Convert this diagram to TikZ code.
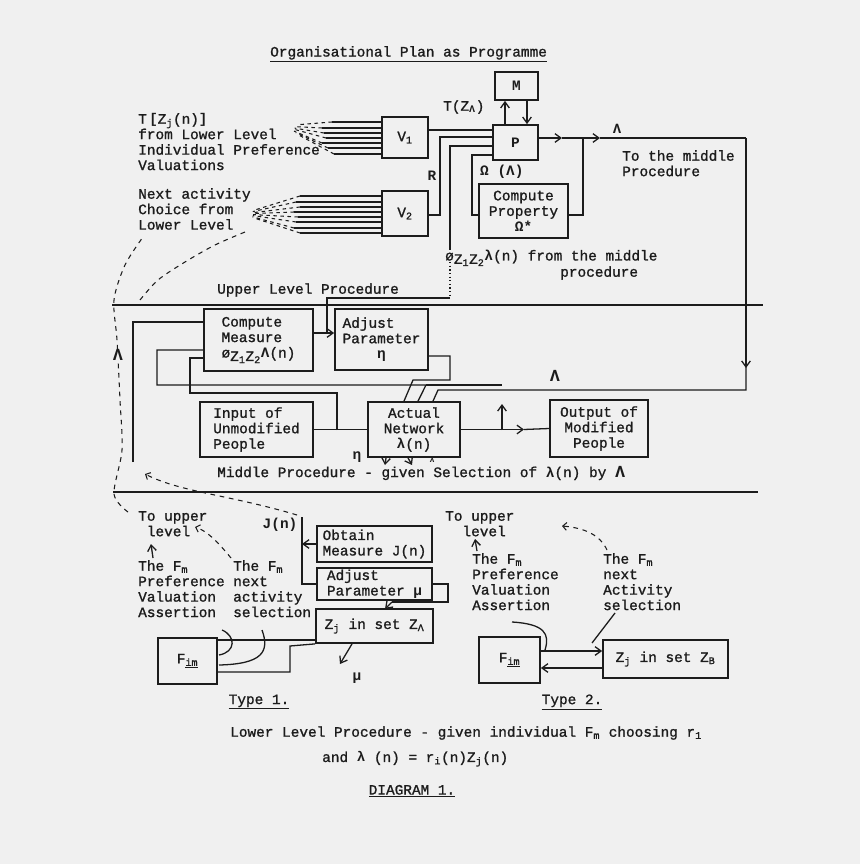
\documentclass[tikz,border=0pt]{standalone}
\usepackage{fontspec}
\setmainfont{Liberation Mono}[UprightFeatures={FakeBold=1.2}]
\usetikzlibrary{arrows.meta,calc}
\definecolor{paper}{HTML}{F0F0F0}
\definecolor{ink}{HTML}{1C1C1C}
\newcommand{\phizz}{ø\raisebox{-0.45ex}{Z\textsubscript{1}Z\textsubscript{2}}}
\tikzset{
  pbox/.style 2 args = {draw=ink, line width=1.5pt, rectangle, minimum width=#1*0.3mm,
                        minimum height=#2*0.3mm, inner sep=0.5pt, align=center},
  wire/.style     = {draw=ink, line width=1.1pt},
  sig/.style      = {wire, -{Straight Barb[length=1.8mm,width=2.6mm]}},
  dashline/.style = {draw=ink, line width=0.9pt, dash pattern=on 4pt off 4pt},
  fan/.style      = {draw=ink, line width=0.9pt, dash pattern=on 3pt off 3pt},
  lbl/.style      = {text=ink, inner sep=0pt, align=left},
}
\begin{document}
\begin{tikzpicture}[x=0.3mm,y=-0.3mm,font=\fontsize{12.3}{13.2}\selectfont,color=ink]
\fill[paper] (0,0) rectangle (860,864);
\useasboundingbox (0,0) rectangle (860,864);
\node[lbl,anchor=west] (title) at (270,54) {\underline{Organisational Plan as Programme}};
% upper level boxes
\node[pbox={43}{28}] (m) at (516.5,86) {\textbf{M}};
\node[pbox={45}{35}] (p) at (515.5,142.5) {\textbf{P}};
\node[pbox={46}{41}] (v1) at (405,137.5) {V\textsubscript{1}};
\node[pbox={46}{45}] (v2) at (405,213.5) {V\textsubscript{2}};
\node[pbox={89}{54}] (cprop) at (523.5,211) {Compute\\Property\\\textbf{Ω*}};
% preference lines into V1 and V2
\foreach \y/\xs in {122/332,128/322,133/324,138/326,143/322,148/328,154/334}{
  \draw[wire] (\xs,\y) -- (v1.west |- 0,\y);
  \draw[fan] (\xs,\y) -- ($(\xs,\y)!0.7!(282,126)$);}
\foreach \y/\xs in {196/300,202/296,207/300,212/294,217/298,222/296,228/294,233/300}{
  \draw[wire] (\xs,\y) -- (v2.west |- 0,\y);
  \draw[fan] (\xs,\y) -- ($(\xs,\y)!0.8!(242,214)$);}
\node[lbl,anchor=north west] (tzj) at (138,113) {T\,{\large\textbf{[}}Z\textsubscript{j}(n){\large\textbf{]}}\\from Lower Level\\Individual Preference\\Valuations};
\node[lbl,anchor=north west] (nxt) at (138,188) {Next activity\\Choice from\\Lower Level};
% into P
\draw[wire] (v1.east |- 0,130) -- (p.west |- 0,130);
\draw[wire] (v2.east |- 0,215) -- (440,215) -- (440,137) -- (p.west |- 0,137);
\draw[wire] (p.west |- 0,146) -- (450,146) -- (450,250);
\draw[wire,dotted] (450,262) -- (450,298);
\draw[wire] (450,298) -- (327,298) -- (327,333);
\draw[sig] (p.north -| 505,0) -- (m.south -| 505,0);
\draw[sig] (m.south -| 527,0) -- (p.north -| 527,0);
% out of P
\coordinate (lamR) at (746,138);
\draw[sig] (p.east |- 0,138) -- (562,138);
\draw[sig] (562,138) -- (600,138);
\draw[wire] (600,138) -- (lamR);
\draw[sig] (lamR) -- (746,368);
\draw[wire] (583,138) -- (583,215) -- (cprop.east |- 0,215);
\draw[wire] (cprop.west |- 0,215) -- (472,215) -- (472,155) -- (p.west |- 0,155);
\node[lbl,anchor=west] (tza) at (443,107) {T(Z\textsubscript{\textbf{Λ}})};
\node[lbl] (r) at (432,176) {\textbf{R}};
\node[lbl,anchor=west] (omg) at (480,172) {\textbf{Ω (Λ)}};
\node[lbl] (lam1) at (617,129) {\large\textbf{Λ}};
\node[lbl,anchor=north west] (tomid) at (622,150) {To the middle\\Procedure};
\node[lbl,anchor=west] (phil) at (445,258) {\phizz\textbf{λ}(n) from the middle};
\node[lbl,anchor=west] (proc) at (560,273) {procedure};
\node[lbl,anchor=west] (ulp) at (217,290) {Upper Level Procedure};
% dividers
\draw[wire] (112,305) -- (763,305);
\draw[wire] (113,492) -- (758,492);
% middle level boxes
\node[pbox={109}{62},align=left] (cmeas) at (258.5,340) {Compute\\Measure\\\phizz\textbf{Λ}(n)};
\node[pbox={93}{61},align=left] (adjeta) at (381.5,339.5) {Adjust\\Parameter\\\hspace*{2.4em}\textbf{η}};
\node[pbox={113}{55},align=left] (input) at (256.5,429.5) {Input of\\Unmodified\\People};
\node[pbox={92}{55}] (net) at (414,429.5) {Actual\\Network\\\textbf{λ}(n)};
\node[pbox={98}{57}] (output) at (599,428.5) {Output of\\Modified\\People};
% middle level wiring
\draw[wire] (746,366) -- (746,390) -- (438,390) -- (net.north -| 433,0);
\draw[sig] (cmeas.east |- 0,333) -- (adjeta.west |- 0,333);
\draw[wire] (input.east) -- (net.west);
\draw[wire] (337,430) -- (337,393) -- (190,393) -- (190,358) -- (cmeas.west |- 0,358);
\draw[wire] (133,462) -- (133,322) -- (cmeas.west |- 0,322);
\draw[wire] (cmeas.west |- 0,350) -- (157,350) -- (157,385) -- (426,385) -- (net.north -| 418,0);
\draw[wire] (426,385) -- (502,385);
\draw[sig] (502,430) -- (502,404);
\draw[wire] (adjeta.east |- 0,356) -- (450,356) -- (450,380) -- (413,380) -- (net.north -| 404,0);
\draw[sig] (net.east) -- (524,429.5);
\draw[wire] (524,429.5) -- (output.west);
\node[lbl] (lam2) at (555,376) {\Large\textbf{Λ}};
\node[lbl,anchor=west] (mlp) at (217,473) {Middle Procedure - given Selection of \textbf{λ}(n) by {\Large\textbf{Λ}}};
\node[lbl] (eta2) at (357,457) {\textbf{η}};
\draw[sig] (net.south -| 386,0) -- (385,465);
\draw[sig] (net.south -| 408,0) -- (412,465);
\node[lbl] (lam3) at (432,460) {\scriptsize\textbf{λ}};
% dashed routes on the left
\draw[dashline] plot[smooth] coordinates {(128,512) (114,494) (122,450) (120,400) (117,340) (114,300) (125,265) (143,237)};
\node[lbl,fill=paper] (lam4) at (118,355) {\Large\textbf{Λ}};
\draw[dashline] plot[smooth] coordinates {(140,300) (158,280) (185,262) (215,245) (245,232)};
\draw[dashline,-{Straight Barb}] (297,515) .. controls (230,495) and (180,492) .. (145,474);
% lower level, type 1
\node[pbox={115}{36},align=left] (obtain) at (374.5,544) {Obtain\\Measure J(n)};
\node[pbox={115}{32},align=left] (adjmu) at (374.5,584) {Adjust\\Parameter \textbf{μ}};
\node[pbox={117}{34}] (za) at (374.5,626) {Z\textsubscript{j} in set Z\textsubscript{Λ}};
\node[pbox={59}{46}] (fa) at (187.5,661) {F\textsubscript{\underline{im}}};
\draw[wire] (302,517) -- (302,584) -- (adjmu.west |- 0,584);
\draw[sig] (obtain.west) -- (302,544);
\draw[wire] (adjmu.east) -- (448,584) -- (448,602) -- (392,602);
\draw[sig] (392,602) -- (385,609);
\draw[wire] (fa.east |- 0,640) -- (za.west |- 0,640);
\draw[wire] (fa.east |- 0,672) -- (290,672) -- (290,646) -- (za.south west);
\draw[wire] (222,630) .. controls (236,636) and (236,652) .. (219,655);
\draw[wire] (262,630) .. controls (270,652) and (262,664) .. (219,665);
\draw[sig] (za.south -| 352,0) -- (340,664);
\node[lbl] (mu2) at (357,678) {\textbf{μ}};
\node[lbl] (jn) at (280,525) {\textbf{J(n)}};
\node[lbl,anchor=north west] (up1) at (138,511) {To upper\\\hspace*{0.6em}level};
\node[lbl,anchor=north west] (pv1) at (138,560) {The F\textsubscript{m}\\Preference\\Valuation\\Assertion};
\node[lbl,anchor=north west] (ns1) at (233,560) {The F\textsubscript{m}\\next\\activity\\selection};
\draw[sig] (153,558) -- (151,544);
\draw[dashline,-{Straight Barb}] (231,558) .. controls (217,541) and (207,531) .. (195,527);
% lower level, type 2
\node[pbox={61}{46}] (fb) at (509.5,660) {F\textsubscript{\underline{im}}};
\node[pbox={125}{38}] (zb) at (665.5,659) {Z\textsubscript{j} in set Z\textsubscript{B}};
\draw[sig] (fb.east |- 0,651) -- (zb.west |- 0,651);
\draw[sig] (zb.west |- 0,668) -- (fb.east |- 0,668);
\draw[wire] (512,622) .. controls (545,624) and (550,634) .. (545,650);
\draw[wire] (615,613) -- (592,643);
\node[lbl,anchor=north west] (up2) at (445,511) {To upper\\\hspace*{1.2em}level};
\node[lbl,anchor=north west] (pv2) at (472,553) {The F\textsubscript{m}\\Preference\\Valuation\\Assertion};
\node[lbl,anchor=north west] (ns2) at (603,553) {The F\textsubscript{m}\\next\\Activity\\selection};
\draw[sig] (477,551) -- (475,539);
\draw[dashline,-{Straight Barb}] (607,550) .. controls (600,535) and (585,528) .. (562,526);
% captions
\node[lbl] (t1) at (259,702) {\underline{Type 1.}};
\node[lbl] (t2) at (572,702) {\underline{Type 2.}};
\node[lbl,anchor=west] (llp) at (230,733) {Lower Level Procedure - given individual F\textsubscript{m} choosing r\textsubscript{1}};
\node[lbl,anchor=west] (andl) at (322,759) {and {\large\textbf{λ}} (n) = r\textsubscript{i}(n)Z\textsubscript{j}(n)};
\node[lbl] (diag) at (412,791) {\underline{DIAGRAM 1.}};
\end{tikzpicture}
\end{document}
